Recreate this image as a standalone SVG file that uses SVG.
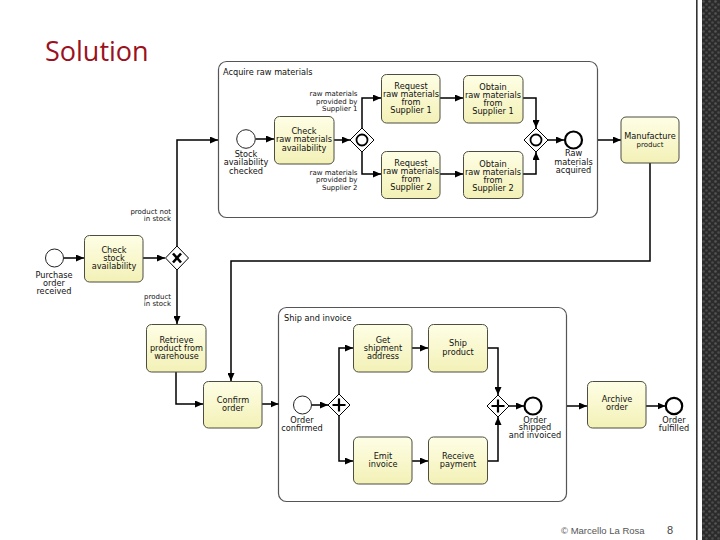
<svg xmlns="http://www.w3.org/2000/svg" width="720" height="540" viewBox="0 0 720 540">
<defs>
<linearGradient id="taskFill" x1="0" y1="0" x2="0" y2="1">
<stop offset="0" stop-color="#fefee6"/>
<stop offset="1" stop-color="#f3f1b6"/>
</linearGradient>
<pattern id="carbon" x="0" y="0" width="6" height="6" patternUnits="userSpaceOnUse">
<rect width="6" height="6" fill="#2b2b2b"/>
<circle cx="1.5" cy="1.5" r="1.3" fill="#555"/>
<circle cx="4.5" cy="4.5" r="1.3" fill="#4a4a4a"/>
</pattern>
<marker id="arr" markerWidth="8" markerHeight="7" refX="8" refY="3.5" orient="auto" markerUnits="userSpaceOnUse">
<path d="M0,0 L8,3.5 L0,7 Z" fill="#000"/>
</marker>
<style>
.task{fill:url(#taskFill);stroke:#4d4d40;stroke-width:1}
.sub{fill:#fff;stroke:#555;stroke-width:1.2}
.t{font-family:"DejaVu Sans",Verdana,sans-serif;font-size:8.2px;fill:#111;text-anchor:middle}
.s{font-family:"DejaVu Sans",Verdana,sans-serif;font-size:7px;fill:#111;text-anchor:end}
.lbl{font-family:"DejaVu Sans",Verdana,sans-serif;font-size:8.2px;fill:#111}
.start{fill:#fff;stroke:#222;stroke-width:1}
.end{fill:#fff;stroke:#000;stroke-width:2.2}
.gw{fill:#fff;stroke:#000;stroke-width:1}
.flow{fill:none;stroke:#000;stroke-width:1.5;marker-end:url(#arr)}
.line{fill:none;stroke:#000;stroke-width:1.5}
</style>
</defs>
<rect width="720" height="540" fill="#fff"/>
<rect x="696" y="0" width="1.6" height="540" fill="#333"/>
<rect x="702" y="0" width="18" height="540" fill="url(#carbon)"/>
<text x="45" y="61" font-family="'Open Sans','Liberation Sans',sans-serif" font-size="27" fill="#9b1120">Solution</text>
<text x="561" y="534" font-family="'Liberation Sans',sans-serif" font-size="9.5" fill="#555">© Marcello La Rosa</text>
<text x="667" y="534" font-family="'Liberation Sans',sans-serif" font-size="11" fill="#444">8</text>

<g id="sub_acquire">
<rect class="sub" x="218.5" y="61.5" width="379" height="156" rx="8"/>
<text class="lbl" x="223" y="75">Acquire raw materials</text>
</g>
<g id="sub_ship">
<rect class="sub" x="278.5" y="307.5" width="288" height="194" rx="8"/>
<text class="lbl" x="284" y="321">Ship and invoice</text>
</g>

<g id="connectors">
<path class="flow" d="M63.5,258 L84,258"/>
<path class="flow" d="M143,258 L165,258"/>
<path class="flow" d="M177,246 L177,140 L218,140"/>
<path class="flow" d="M177,270 L177,324"/>
<path class="flow" d="M176,372 L176,404 L203,404"/>
<path class="flow" d="M650,163 L650,261 L231,261 L231,381"/>
<path class="flow" d="M598,140 L621,140"/>
<path class="flow" d="M255.5,139 L274,139"/>
<path class="flow" d="M334,140 L350,140"/>
<path class="flow" d="M362,128 L362,98 L381,98"/>
<path class="flow" d="M362,152 L362,174 L381,174"/>
<path class="flow" d="M440,98 L463,98"/>
<path class="flow" d="M440,174 L463,174"/>
<path class="flow" d="M523,98 L536,98 L536,128"/>
<path class="flow" d="M523,174 L536,174 L536,152"/>
<path class="flow" d="M548,140 L564,140"/>
<path class="flow" d="M262,404 L278.5,404"/>
<path class="flow" d="M311.5,405 L328,405"/>
<path class="flow" d="M339,394 L339,348 L353,348"/>
<path class="flow" d="M339,416 L339,461 L353,461"/>
<path class="flow" d="M412,348 L428,348"/>
<path class="flow" d="M412,461 L428,461"/>
<path class="flow" d="M488,348 L498,348 L498,395"/>
<path class="flow" d="M488,461 L498,461 L498,417"/>
<path class="flow" d="M509,406 L524,406"/>
<path class="flow" d="M567,406 L587,406"/>
<path class="flow" d="M646,406 L665.5,406"/>
<text class="s" x="171" y="213.5">product not</text>
<text class="s" x="171" y="221">in stock</text>
<text class="s" x="171" y="298.5">product</text>
<text class="s" x="171" y="306">in stock</text>
<text class="s" x="357.5" y="96">raw materials</text>
<text class="s" x="357.5" y="103.5">provided by</text>
<text class="s" x="357.5" y="111">Supplier 1</text>
<text class="s" x="357.5" y="174.5">raw materials</text>
<text class="s" x="357.5" y="182">provided by</text>
<text class="s" x="357.5" y="189.5">Supplier 2</text>
</g>

<g id="ev_purchase">
<circle class="start" cx="54.5" cy="258" r="9"/>
<text class="t" x="54" y="277.5">Purchase</text>
<text class="t" x="54" y="285.5">order</text>
<text class="t" x="54" y="293.5">received</text>
</g>
<g id="task_checkstock">
<rect class="task" x="84.5" y="235.5" width="58.5" height="46.5" rx="5"/>
<text class="t" x="114" y="253">Check</text>
<text class="t" x="114" y="261">stock</text>
<text class="t" x="114" y="269">availability</text>
</g>
<g id="gw_xor">
<path class="gw" d="M177,246 L188.5,258 L177,270 L165.5,258 Z"/>
<path d="M173,253.5 L181,262.5 M181,253.5 L173,262.5" stroke="#000" stroke-width="2.6"/>
</g>

<g id="ev_stock">
<circle class="start" cx="246" cy="139" r="9.3"/>
<text class="t" x="246" y="157">Stock</text>
<text class="t" x="246" y="165">availability</text>
<text class="t" x="246" y="173.5">checked</text>
</g>
<g id="task_checkraw">
<rect class="task" x="274.5" y="116.5" width="59.5" height="47.5" rx="5"/>
<text class="t" x="304" y="134">Check</text>
<text class="t" x="304" y="142">raw materials</text>
<text class="t" x="304" y="150.5">availability</text>
</g>
<g id="gw_or_split">
<path class="gw" d="M362,128 L374,140 L362,152 L350,140 Z"/>
<circle cx="362" cy="140" r="5.5" fill="none" stroke="#000" stroke-width="1.8"/>
</g>
<g id="task_req1">
<rect class="task" x="381.5" y="74.5" width="58.5" height="48.5" rx="5"/>
<text class="t" x="411" y="88.5">Request</text>
<text class="t" x="411" y="96.5">raw materials</text>
<text class="t" x="411" y="104.5">from</text>
<text class="t" x="411" y="112.5">Supplier 1</text>
</g>
<g id="task_req2">
<rect class="task" x="381.5" y="151.5" width="58.5" height="47" rx="5"/>
<text class="t" x="411" y="166">Request</text>
<text class="t" x="411" y="174">raw materials</text>
<text class="t" x="411" y="182">from</text>
<text class="t" x="411" y="190">Supplier 2</text>
</g>
<g id="task_obt1">
<rect class="task" x="463.5" y="75.5" width="59.5" height="47.5" rx="5"/>
<text class="t" x="493" y="90">Obtain</text>
<text class="t" x="493" y="98">raw materials</text>
<text class="t" x="493" y="106">from</text>
<text class="t" x="493" y="114">Supplier 1</text>
</g>
<g id="task_obt2">
<rect class="task" x="463.5" y="151.5" width="59.5" height="47" rx="5"/>
<text class="t" x="493" y="167">Obtain</text>
<text class="t" x="493" y="175">raw materials</text>
<text class="t" x="493" y="183">from</text>
<text class="t" x="493" y="191">Supplier 2</text>
</g>
<g id="gw_or_join">
<path class="gw" d="M536,128 L548,140 L536,152 L524,140 Z"/>
<circle cx="536" cy="140" r="5.5" fill="none" stroke="#000" stroke-width="1.8"/>
</g>
<g id="ev_rawacq">
<circle class="end" cx="573.5" cy="140" r="8.5"/>
<text class="t" x="573.5" y="156">Raw</text>
<text class="t" x="573.5" y="164.5">materials</text>
<text class="t" x="573.5" y="173">acquired</text>
</g>
<g id="task_manufacture">
<rect class="task" x="621" y="117" width="58" height="46" rx="5"/>
<text class="t" x="650" y="138.5">Manufacture</text>
<text class="t" x="650" y="146.5" style="font-size:7px">product</text>
</g>

<g id="task_retrieve">
<rect class="task" x="146.5" y="324.5" width="59.5" height="47.5" rx="5"/>
<text class="t" x="176.5" y="342.5">Retrieve</text>
<text class="t" x="176.5" y="350.5">product from</text>
<text class="t" x="176.5" y="358.5">warehouse</text>
</g>
<g id="task_confirm">
<rect class="task" x="203.5" y="381.5" width="58.5" height="46.5" rx="5"/>
<text class="t" x="233" y="402.5">Confirm</text>
<text class="t" x="233" y="410.5">order</text>
</g>
<g id="ev_confirmed">
<circle class="start" cx="302.5" cy="405" r="9"/>
<text class="t" x="302" y="422.5">Order</text>
<text class="t" x="302" y="430.5">confirmed</text>
</g>
<g id="gw_and_split">
<path class="gw" d="M339,394 L350,405 L339,416 L328,405 Z"/>
<path d="M339,398.5 L339,411.5 M332.5,405 L345.5,405" stroke="#000" stroke-width="2.2"/>
</g>
<g id="task_getaddr">
<rect class="task" x="353.5" y="324.5" width="58.5" height="47.5" rx="5"/>
<text class="t" x="383" y="342.5">Get</text>
<text class="t" x="383" y="350.5">shipment</text>
<text class="t" x="383" y="358.5">address</text>
</g>
<g id="task_ship">
<rect class="task" x="428.5" y="324.5" width="59" height="47.5" rx="5"/>
<text class="t" x="458" y="346">Ship</text>
<text class="t" x="458" y="354.5">product</text>
</g>
<g id="task_emit">
<rect class="task" x="353.5" y="437" width="58.5" height="47" rx="5"/>
<text class="t" x="383" y="459">Emit</text>
<text class="t" x="383" y="467">invoice</text>
</g>
<g id="task_receive">
<rect class="task" x="428.5" y="437" width="59" height="47" rx="5"/>
<text class="t" x="458" y="459">Receive</text>
<text class="t" x="458" y="467">payment</text>
</g>
<g id="gw_and_join">
<path class="gw" d="M498,395 L509,406 L498,417 L487,406 Z"/>
<path d="M498,399.5 L498,412.5 M491.5,406 L504.5,406" stroke="#000" stroke-width="2.2"/>
</g>
<g id="ev_shipped">
<circle class="end" cx="533" cy="406" r="8.5"/>
<text class="t" x="535" y="422.5">Order</text>
<text class="t" x="535" y="430">shipped</text>
<text class="t" x="535" y="438">and invoiced</text>
</g>
<g id="task_archive">
<rect class="task" x="587.5" y="381.5" width="58.5" height="46.5" rx="5"/>
<text class="t" x="617" y="402">Archive</text>
<text class="t" x="617" y="410">order</text>
</g>
<g id="ev_fulfilled">
<circle class="end" cx="674" cy="406" r="8.2"/>
<text class="t" x="674" y="422.5">Order</text>
<text class="t" x="674" y="430.5">fulfilled</text>
</g>
</svg>
